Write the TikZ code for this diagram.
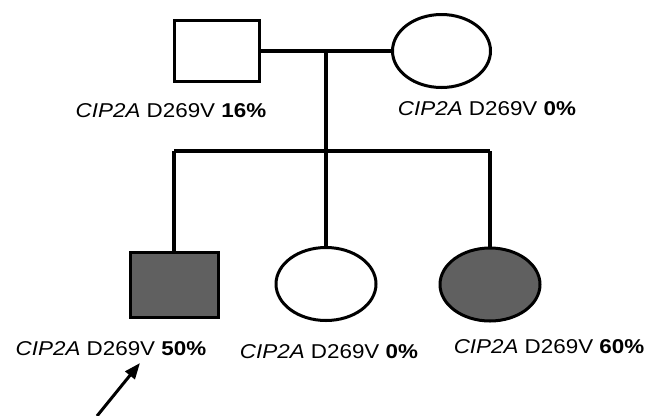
\documentclass[tikz,border=0pt]{standalone}
\usepackage{fontspec}
\setmainfont{Liberation Sans}
\usetikzlibrary{shapes.geometric,arrows.meta}
\definecolor{affected}{RGB}{96,96,96}
\newcommand{\carrier}[1]{\scalebox{1.12}[1]{\textit{CIP2A} D269V \textbf{#1\%}}}

\begin{document}
\begin{tikzpicture}[x=0.75pt,y=0.75pt,yscale=-1,xscale=1,
  male/.style={draw,rectangle,line width=2.25pt,inner sep=0pt},
  female/.style={draw,ellipse,line width=2.25pt,inner sep=0pt},
  line/.style={line width=3pt},
  genotype/.style={anchor=base,inner sep=0pt,font=\fontsize{15pt}{18pt}\selectfont}]
\useasboundingbox (0,0) rectangle (660,415);

% Parents
\node [male,minimum width=63.75pt,minimum height=45.75pt] (father) at (217,51) {};
\node [female,minimum width=73.5pt,minimum height=54.75pt] (mother) at (441.5,51) {};
% Children
\node [male,fill=affected,minimum width=66pt,minimum height=48.75pt] (son) at (174,285) {};
\node [female,minimum width=75pt,minimum height=54.75pt] (daughter) at (326,284) {};
\node [female,fill=affected,minimum width=75pt,minimum height=54.75pt] (sister) at (490,284.5) {};

% Junctions
\coordinate (mid) at (326,51);
\coordinate (sib) at (326,151);
\coordinate (sibL) at (174,151);
\coordinate (sibR) at (490,151);

% Marriage and sibship lines
\draw [line] (father.east) -- (mother.west);
\draw [line] (mid) -- (sib);
\draw [line] (sibL) -- (sibR);
\draw [line] (sibL) -- (son.north);
\draw [line] (sib) -- (daughter.north);
\draw [line] (sibR) -- (sister.north);

% Proband arrow
\coordinate (tail) at (97,416);
\coordinate (tip) at (140,363);
\draw [line width=2.25pt,-{Triangle[length=12pt,width=9pt]}] (tail) -- (tip);

% Text Node
\node [genotype] (lfather) at (171,117) {\carrier{16}};
% Text Node
\node [genotype] (lmother) at (487,115) {\carrier{0}};
% Text Node
\node [genotype] (lson) at (111,355) {\carrier{50}};
% Text Node
\node [genotype] (ldaughter) at (329,358) {\carrier{0}};
% Text Node
\node [genotype] (lsister) at (549,353) {\carrier{60}};

\end{tikzpicture}
\end{document}
